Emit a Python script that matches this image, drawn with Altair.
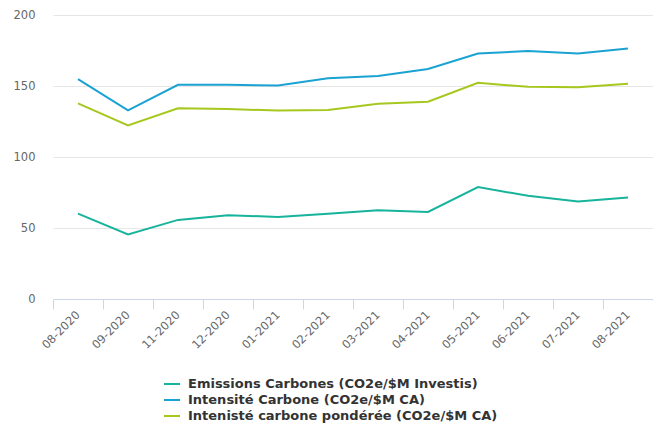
import altair as alt
import pandas as pd

months = ["08-2020", "09-2020", "11-2020", "12-2020", "01-2021", "02-2021",
          "03-2021", "04-2021", "05-2021", "06-2021", "07-2021", "08-2021"]
series_names = ["Emissions Carbones (CO2e/$M Investis)",
                "Intensité Carbone (CO2e/$M CA)",
                "Intenisté carbone pondérée (CO2e/$M CA)"]
emissions = [60.1, 45.5, 55.7, 59.0, 57.8, 60.1, 62.5, 61.3, 78.8, 72.7, 68.7, 71.5]
intensite = [154.8, 132.9, 150.8, 150.8, 150.3, 155.5, 157.1, 162.0, 172.9, 174.6, 172.9, 176.4]
ponderee = [137.8, 122.2, 134.3, 133.8, 132.7, 133.1, 137.5, 138.9, 152.2, 149.4, 149.2, 151.5]
colors = ["#17b39b", "#1aa3d2", "#a6c81e"]

rows = []
for name, vals in zip(series_names, [emissions, intensite, ponderee]):
    for m, v in zip(months, vals):
        rows.append({"month": m, "value": v, "series": name})
df = pd.DataFrame(rows)

chart = alt.Chart(df).mark_line(strokeWidth=2).encode(
    x=alt.X("month:N", sort=months, title=None,
            scale=alt.Scale(paddingInner=0, paddingOuter=0),
            axis=alt.Axis(labelAngle=-45, labelAlign="right", labelBaseline="middle",
                          labelFontSize=11.5, labelColor="#666666", labelFont="DejaVu Sans",
                          tickBand="extent", tickColor="#ccd6eb", tickSize=10,
                          domainColor="#ccd6eb", grid=False, labelPadding=4)),
    y=alt.Y("value:Q", title=None,
            scale=alt.Scale(domain=[0, 200], nice=False),
            axis=alt.Axis(values=[0, 50, 100, 150, 200], domain=False, ticks=False,
                          gridColor="#e6e6e6", labelFontSize=11.5, labelColor="#666666",
                          labelFont="DejaVu Sans", labelPadding=18)),
    color=alt.Color("series:N", sort=series_names,
                    scale=alt.Scale(domain=series_names, range=colors),
                    legend=alt.Legend(title=None, orient="none", legendX=110, legendY=360,
                                      symbolType="stroke", symbolSize=256,
                                      symbolStrokeWidth=2, labelFontSize=13,
                                      labelFontWeight="bold", labelColor="#333333",
                                      labelFont="DejaVu Sans", rowPadding=0,
                                      labelOffset=7, labelLimit=0)),
).properties(
    width=600, height=284,
    autosize=alt.AutoSizeParams(type="none"),
    padding={"left": 45, "top": 7, "right": 0, "bottom": 125},
).configure_view(stroke=None)

chart.save("out.html", embed_options={"renderer": "svg", "actions": False})
